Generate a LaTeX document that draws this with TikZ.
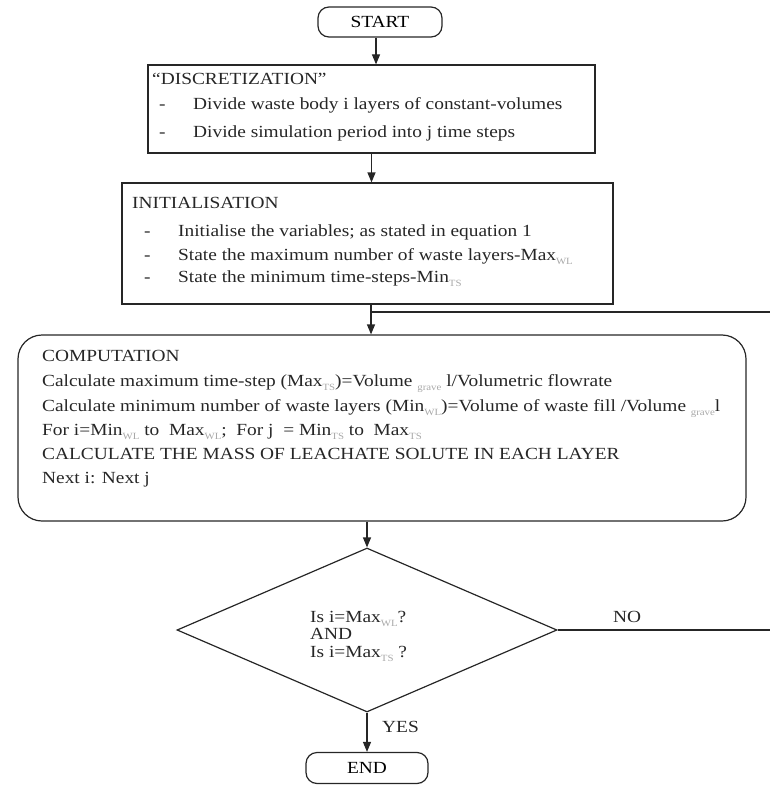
\documentclass[tikz,border=0pt]{standalone}
\usepackage{fontspec}
\setmainfont{Liberation Serif}[FakeStretch=1.14]
\usetikzlibrary{arrows.meta,shapes.geometric}
\definecolor{subgray}{HTML}{A8A8A8}
\definecolor{ink}{HTML}{262626}
\newcommand{\sbs}[1]{\raisebox{-4pt}{\fontsize{9.5}{9.5}\selectfont\color{subgray}#1}}
\newcommand{\dsh}{\makebox[34pt][l]{-}}
\begin{document}
\begin{tikzpicture}[x=1pt,y=-1pt,
  term/.style={draw=ink, line width=1.2pt, rounded corners=11pt, minimum width=124pt, minimum height=30pt, inner sep=0pt, font=\fontsize{17}{17}\selectfont},
  boxs/.style={draw=ink, line width=1.2pt, inner sep=0pt},
  txt/.style={anchor=base west, inner sep=0pt, text=ink, font=\fontsize{17}{17}\selectfont},
  arr/.style={draw=ink, line width=1.2pt, -{Triangle[length=10pt,width=8pt]}},
  ln/.style={draw=ink, line width=1.2pt}]
\useasboundingbox (0,0) rectangle (769,789);

% terminators
\node[term] (start) at (380,22) {START};
\node[term, minimum width=122pt, minimum height=31pt] (end) at (367,768) {END};

% boxes
\node[boxs, minimum width=447pt, minimum height=88pt] (disc) at (371.5,109) {};
\node[boxs, minimum width=491pt, minimum height=121pt] (init) at (367.5,243.5) {};
\node[boxs, rounded corners=24pt, minimum width=728pt, minimum height=186pt] (comp) at (382,428) {};
\node[diamond, draw=ink, line width=1.2pt, minimum width=380pt, minimum height=164pt, inner sep=0pt] (dec) at (367,630) {};

% discretization text
\node[txt] (d0) at (152,85) {“DISCRETIZATION”};
\node[txt] (d1) at (159,110) {\dsh Divide waste body i layers of constant-volumes};
\node[txt] (d2) at (159,137) {\dsh Divide simulation period into j time steps};

% initialisation text
\node[txt] (i0) at (132,208) {INITIALISATION};
\node[txt] (i1) at (144,236) {\dsh Initialise the variables; as stated in equation 1};
\node[txt] (i2) at (144,260) {\dsh State the maximum number of waste layers-Max\sbs{WL}};
\node[txt] (i3) at (144,282) {\dsh State the minimum time-steps-Min\sbs{TS}};

% computation text
\node[txt] (c0) at (42,361) {COMPUTATION};
\node[txt] (c1) at (42,386) {Calculate maximum time-step (Max\sbs{TS})=Volume \sbs{grave} l/Volumetric flowrate};
\node[txt] (c2) at (42,411) {Calculate minimum number of waste layers (Min\sbs{WL})=Volume of waste fill /Volume \sbs{grave}l};
\node[txt] (c3) at (42,435) {For i=Min\sbs{WL} to\ \ Max\sbs{WL}; \ For j \ = Min\sbs{TS} to\ \ Max\sbs{TS}};
\node[txt] (c4) at (42,459) {CALCULATE THE MASS OF LEACHATE SOLUTE IN EACH LAYER};
\node[txt] (c5) at (42,483) {Next i: Next j};

% decision text
\node[txt] (q1) at (310,622) {Is i=Max\sbs{WL}?};
\node[txt] (q2) at (310,639) {AND};
\node[txt] (q3) at (310,657) {Is i=Max\sbs{TS} ?};

% branch labels
\node[txt] (no) at (613,622) {NO};
\node[txt] (yes) at (382,732) {YES};

% connectors
\coordinate (join) at (371,312);
\coordinate (farright) at (800,630);
\draw[arr] ([xshift=-4pt]start.south) -- ([xshift=-4pt]start.south |- disc.north);
\draw[arr] (disc.south) -- (disc.south |- init.north);
\draw[arr] (join |- init.south) -- (join |- comp.north);
\draw[arr] (dec.north |- comp.south) -- (dec.north);
\draw[arr] (dec.south) -- (end.north);
\draw[ln] (dec.east) -- (farright) |- (join);
\end{tikzpicture}
\end{document}
